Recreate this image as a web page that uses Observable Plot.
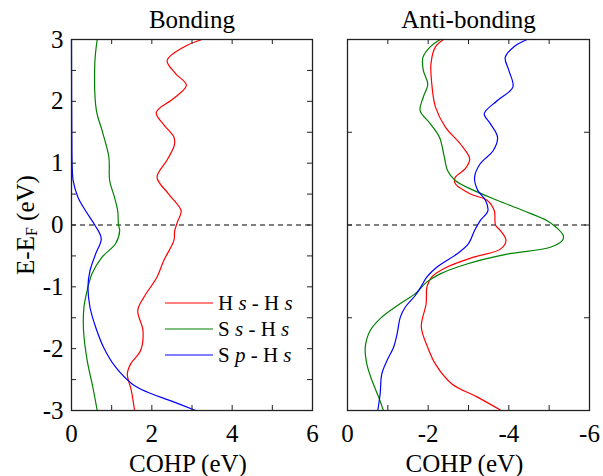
<!DOCTYPE html>
<html><head><meta charset="utf-8">
<script src="https://cdn.jsdelivr.net/npm/d3@7"></script>
<script src="https://cdn.jsdelivr.net/npm/@observablehq/plot@0.6"></script>
<style>
body{margin:0;background:#fff;}
#wrap{position:relative;width:603px;height:476px;background:#fff;}
#wrap svg{position:absolute;top:0;}
</style></head><body><div id="wrap"></div>
<script>
// ---- Data (energy E-EF in eV, COHP in eV) ----
const seriesNames = ["H s - H s", "S s - H s", "S p - H s"];
const seriesColors = ["#ff0000", "#008000", "#0000ff"];

// Bonding panel
const bondHH_E = [3.0, 2.88, 2.66, 2.45, 2.26, 2.05, 1.82, 1.62, 1.42, 1.29, 1.05, 0.77, 0.50, 0.23, 0.07, -0.09, -0.25, -0.57, -0.84, -1.17, -1.38, -1.71, -2.03, -2.25, -2.41, -2.68, -3.0];
const bondHH_C = [3.25, 2.80, 2.38, 2.59, 2.86, 2.55, 2.11, 2.30, 2.55, 2.56, 2.38, 2.13, 2.42, 2.73, 2.65, 2.57, 2.55, 2.30, 2.13, 1.80, 1.65, 1.78, 1.72, 1.47, 1.39, 1.49, 1.57];
const bondSH_E = [3.0, 2.61, 1.85, 1.53, 1.10, 0.72, 0.45, 0.23, 0.0, -0.09, -0.30, -0.52, -0.79, -1.06, -1.33, -1.71, -2.19, -2.62, -3.0];
const bondSH_C = [0.64, 0.58, 0.62, 0.76, 0.93, 0.95, 1.07, 1.15, 1.17, 1.20, 1.10, 0.76, 0.51, 0.39, 0.31, 0.30, 0.39, 0.53, 0.64];
const bondSpH_E = [3.0, 1.2, 0.9, 0.72, 0.45, 0.23, 0.0, -0.22, -0.47, -0.74, -1.0, -1.33, -1.65, -1.98, -2.30, -2.57, -2.70, -2.84, -3.0];
const bondSpH_C = [0.0, 0.01, 0.02, 0.04, 0.16, 0.35, 0.58, 0.74, 0.60, 0.46, 0.41, 0.46, 0.60, 0.80, 1.10, 1.51, 1.88, 2.46, 3.09];

// Anti-bonding panel
const antiHH_E = [3.0, 2.88, 2.61, 2.28, 1.91, 1.58, 1.31, 1.07, 0.91, 0.77, 0.67, 0.50, 0.40, 0.23, 0.0, -0.09, -0.25, -0.39, -0.52, -0.68, -0.84, -1.0, -1.27, -1.65, -1.98, -2.25, -2.57, -2.78, -3.0];
const antiHH_C = [-2.38, -2.18, -2.07, -2.09, -2.18, -2.43, -2.80, -3.03, -2.92, -2.67, -2.67, -3.05, -3.46, -3.64, -3.67, -3.79, -3.93, -3.79, -3.13, -2.47, -2.09, -1.97, -1.95, -1.83, -1.99, -2.18, -2.59, -3.21, -3.81];
const antiSH_E = [3.0, 2.88, 2.71, 2.50, 2.28, 2.07, 1.85, 1.64, 1.42, 1.10, 0.88, 0.72, 0.56, 0.40, 0.23, 0.07, -0.04, -0.17, -0.25, -0.36, -0.47, -0.63, -0.79, -0.92, -1.11, -1.27, -1.49, -1.71, -1.98, -2.25, -2.52, -2.78, -3.0];
const antiSH_C = [-2.30, -2.05, -1.87, -1.88, -1.99, -1.88, -1.80, -2.05, -2.28, -2.40, -2.48, -2.67, -3.13, -3.71, -4.37, -4.95, -5.18, -5.35, -5.33, -5.03, -3.96, -2.96, -2.30, -1.97, -1.68, -1.31, -0.85, -0.56, -0.44, -0.48, -0.61, -0.77, -0.89];
const antiSpH_E = [3.0, 2.88, 2.71, 2.50, 2.23, 2.01, 1.80, 1.64, 1.42, 1.20, 0.99, 0.77, 0.56, 0.40, 0.23, 0.07, -0.09, -0.30, -0.47, -0.68, -0.84, -1.0, -1.14, -1.33, -1.49, -1.76, -1.98, -2.19, -2.41, -2.73, -3.0];
const antiSpH_C = [-4.45, -4.12, -3.91, -4.00, -4.10, -3.71, -3.39, -3.54, -3.72, -3.61, -3.29, -3.15, -3.23, -3.42, -3.48, -3.29, -3.15, -3.00, -2.71, -2.22, -1.97, -1.82, -1.68, -1.43, -1.31, -1.23, -1.14, -0.98, -0.85, -0.81, -0.75];

// Ticks
const bondXTicks = [0, 1, 2, 3, 4, 5, 6];
const bondXLabels = [0, 2, 4, 6];
const antiXTicks = [0, -1, -2, -3, -4, -5, -6];
const antiXLabels = [0, -2, -4, -6];
const bondYTicks = [-3, -2.5, -2, -1.5, -1, -0.5, 0, 0.5, 1, 1.5, 2, 2.5, 3];
const bondYLabels = [-3, -2, -1, 0, 1, 2, 3];
const antiYTicks = [-3, -1.5, 0, 1.5, 3];
const titles = ["Bonding", "Anti-bonding"];
const xAxisLabel = "COHP (eV)";
const yAxisLabel = "E-EF (eV)";

// ---- Drawing ----
const FONT = '"Liberation Serif", "Times New Roman", serif';
const FS = 25;
const H = 476, MT = 39, MB = 66, TICK = 5;
const frameH = H - MT - MB;

function rows(E, C) { return E.map((e, i) => ({e, c: C[i]})); }

function panel({left, width, marginLeft, marginRight, xDomain, xTicks, xLabels, yTicks, yLabels, title, lines}) {
  const frameW = width - marginLeft - marginRight;
  const txt = {fontFamily: FONT, fontSize: FS, fill: "#000"};
  const marks = [
    Plot.ruleY([0], {stroke: "#555", strokeWidth: 1.3, strokeDasharray: "5,4"}),
    ...lines.map((l, i) => Plot.line(l, {x: "c", y: "e", stroke: seriesColors[i], strokeWidth: 1.2, curve: "catmull-rom"})),
    Plot.tickX(xTicks, {x: d => d, insetTop: frameH - TICK, stroke: "#222"}),
    Plot.tickX(xTicks, {x: d => d, insetBottom: frameH - TICK, stroke: "#222"}),
    Plot.tickY(yTicks, {y: d => d, insetLeft: frameW - TICK, stroke: "#222"}),
    Plot.tickY(yTicks, {y: d => d, insetRight: frameW - TICK, stroke: "#222"}),
    Plot.frame({stroke: "#222", strokeWidth: 1.3}),
    Plot.axisX(xLabels, {anchor: "bottom", tickSize: 0, tickPadding: 14, tickFormat: d => String(d), label: null, ...txt}),
    Plot.text([title], {frameAnchor: "top", dy: -20, text: d => d, lineAnchor: "middle", textAnchor: "middle", ...txt}),
    Plot.text([xAxisLabel], {frameAnchor: "bottom", dy: 53, dx: -4, text: d => d, lineAnchor: "middle", textAnchor: "middle", ...txt})
  ];
  if (yLabels) {
    marks.push(Plot.axisY(yLabels, {anchor: "left", tickSize: 0, tickPadding: 8, tickFormat: d => String(d), label: null, ...txt}));
    marks.push(Plot.text([yAxisLabel], {frameAnchor: "left", dx: -46, rotate: -90, text: d => d, lineAnchor: "middle", textAnchor: "middle", ...txt}));
  }
  const svg = Plot.plot({
    width, height: H, marginLeft, marginRight, marginTop: MT, marginBottom: MB,
    x: {domain: xDomain, axis: null},
    y: {domain: [-3, 3], axis: null},
    style: {fontFamily: FONT, fontSize: FS + "px", color: "#000", background: "transparent", overflow: "visible"},
    marks
  });
  svg.style.left = left + "px";
  document.getElementById("wrap").appendChild(svg);
  return svg;
}

const leftSvg = panel({
  left: 0, width: 320, marginLeft: 71, marginRight: 8,
  xDomain: [0, 6], xTicks: bondXTicks, xLabels: bondXLabels,
  yTicks: bondYTicks, yLabels: bondYLabels, title: titles[0],
  lines: [rows(bondHH_E, bondHH_C), rows(bondSH_E, bondSH_C), rows(bondSpH_E, bondSpH_C)]
});
panel({
  left: 320, width: 283, marginLeft: 27, marginRight: 14,
  xDomain: [0, -6], xTicks: antiXTicks, xLabels: antiXLabels,
  yTicks: antiYTicks, yLabels: null, title: titles[1],
  lines: [rows(antiHH_E, antiHH_C), rows(antiSH_E, antiSH_C), rows(antiSpH_E, antiSpH_C)]
});

// Subscript F in the y-axis label
d3.select(leftSvg).selectAll("text").filter(function() { return this.textContent === yAxisLabel; }).each(function() {
  const t = d3.select(this);
  t.text(null);
  t.append("tspan").text("E-E");
  t.append("tspan").attr("font-size", 16).attr("dy", 3).text("F");
  t.append("tspan").attr("dy", -3).text(" (eV)");
});

// Legend inside the bonding panel
const lg = d3.select(leftSvg).append("g")
  .attr("font-family", FONT).attr("font-size", 21).attr("text-anchor", "start").attr("fill", "#000");
seriesNames.forEach((name, i) => {
  const y = 303 + i * 26;
  lg.append("line").attr("x1", 165).attr("x2", 213).attr("y1", y).attr("y2", y)
    .attr("stroke", seriesColors[i]).attr("stroke-width", 1.2);
  const t = lg.append("text").attr("x", 218).attr("y", y).attr("dy", "0.33em");
  name.split(" ").forEach((tok, k) => {
    t.append("tspan").attr("font-style", /^[a-z]$/.test(tok) ? "italic" : null)
      .text((k ? " " : "") + tok);
  });
});
</script>
</body></html>
